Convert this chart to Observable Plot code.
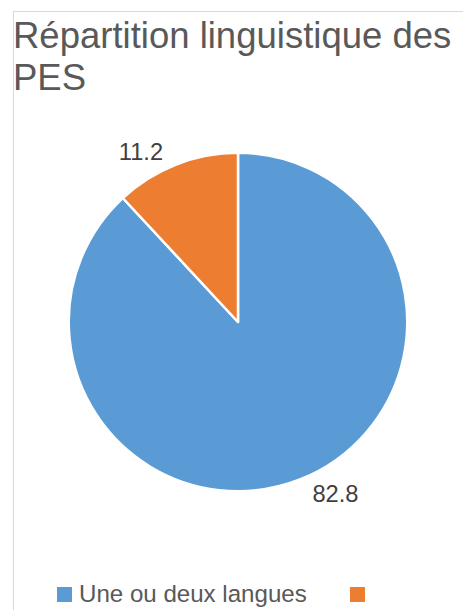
<!DOCTYPE html>
<html><head><meta charset="utf-8">
<script src="https://cdn.jsdelivr.net/npm/d3@7"></script>
<script src="https://cdn.jsdelivr.net/npm/@observablehq/plot@0.6"></script>
<style>
html,body{margin:0;padding:0;background:#fff;}
body{width:463px;height:610px;overflow:hidden;position:relative;font-family:"Liberation Sans",Arial,sans-serif;}
#frame{position:absolute;left:13px;top:11px;width:600px;height:700px;border-left:1px solid #d9d9d9;border-top:1px solid #d9d9d9;z-index:2;pointer-events:none;}
#title{position:absolute;left:13px;top:15px;width:448px;font-size:36.5px;line-height:41.5px;color:#595959;z-index:3;}
#chart{position:absolute;left:0;top:0;z-index:1;}
#legend{position:absolute;left:57px;top:582px;display:flex;font-size:24.1px;line-height:24px;color:#595959;white-space:nowrap;z-index:3;}
.item{display:inline-flex;align-items:center;margin-right:43px;}
.sw{width:15px;height:15px;margin-right:7px;}
</style></head><body>
<div id="frame"></div>
<div id="title"></div>
<div id="chart"></div>
<div id="legend"></div>
<script>
const titleText = "Répartition linguistique des PES";
const categories = ["Une ou deux langues", ""];
const values = [82.8, 11.2];
const colors = ["#5b9bd5", "#ed7d31"];

const rows = categories.map((c, i) => ({category: c, value: values[i]}));

function pieMark(index, scales, vals, dimensions, context) {
  const color = scales.color || d3.scaleOrdinal(categories, colors);
  const cx = scales.x(0), cy = scales.y(0);
  const r = Math.abs(scales.x(1) - scales.x(0));
  const arcs = d3.pie().sort(null).value(d => d.value)(rows);
  const arc = d3.arc().innerRadius(0).outerRadius(r + 1.25);
  const g = d3.create("svg:g").attr("transform", `translate(${cx},${cy})`);
  g.selectAll("path").data(arcs).join("path")
    .attr("d", arc)
    .attr("fill", d => color(d.data.category))
    .attr("stroke", "#ffffff")
    .attr("stroke-width", 2.5)
    .attr("stroke-linejoin", "round");
  const fmt = d3.format(".1f");
  g.selectAll("text").data(arcs).join("text")
    .each(function(d) {
      const mid = (d.startAngle + d.endAngle) / 2;
      const px = r * Math.sin(mid), py = -r * Math.cos(mid);
      const left = px < 0, up = py < 0;
      d3.select(this)
        .attr("x", px + (left ? -13.5 : 13))
        .attr("y", up ? py - 5.6 : py + 23.5)
        .attr("text-anchor", left ? "end" : "start");
    })
    .attr("font-family", "'Liberation Sans', Arial, sans-serif")
    .attr("font-size", 23.7)
    .attr("fill", "#404040")
    .text(d => fmt(d.data.value));
  return g.node();
}

const chart = Plot.plot({
  width: 463,
  height: 610,
  marginLeft: 70,
  marginRight: 57,
  marginTop: 154,
  marginBottom: 120,
  style: {background: "transparent"},
  x: {domain: [-1, 1], axis: null},
  y: {domain: [-1, 1], axis: null},
  color: {domain: categories, range: colors},
  marks: [pieMark]
});
document.getElementById("chart").appendChild(chart);
document.getElementById("title").textContent = titleText;

const legendColor = chart.scale ? chart.scale("color") : null;
const legend = document.getElementById("legend");
categories.forEach((c, i) => {
  const item = document.createElement("span");
  item.className = "item";
  const sw = document.createElement("span");
  sw.className = "sw";
  sw.style.background = legendColor ? legendColor.range[legendColor.domain.indexOf(c)] : colors[i];
  const t = document.createElement("span");
  t.textContent = c;
  item.appendChild(sw);
  item.appendChild(t);
  legend.appendChild(item);
});
</script>
</body></html>
